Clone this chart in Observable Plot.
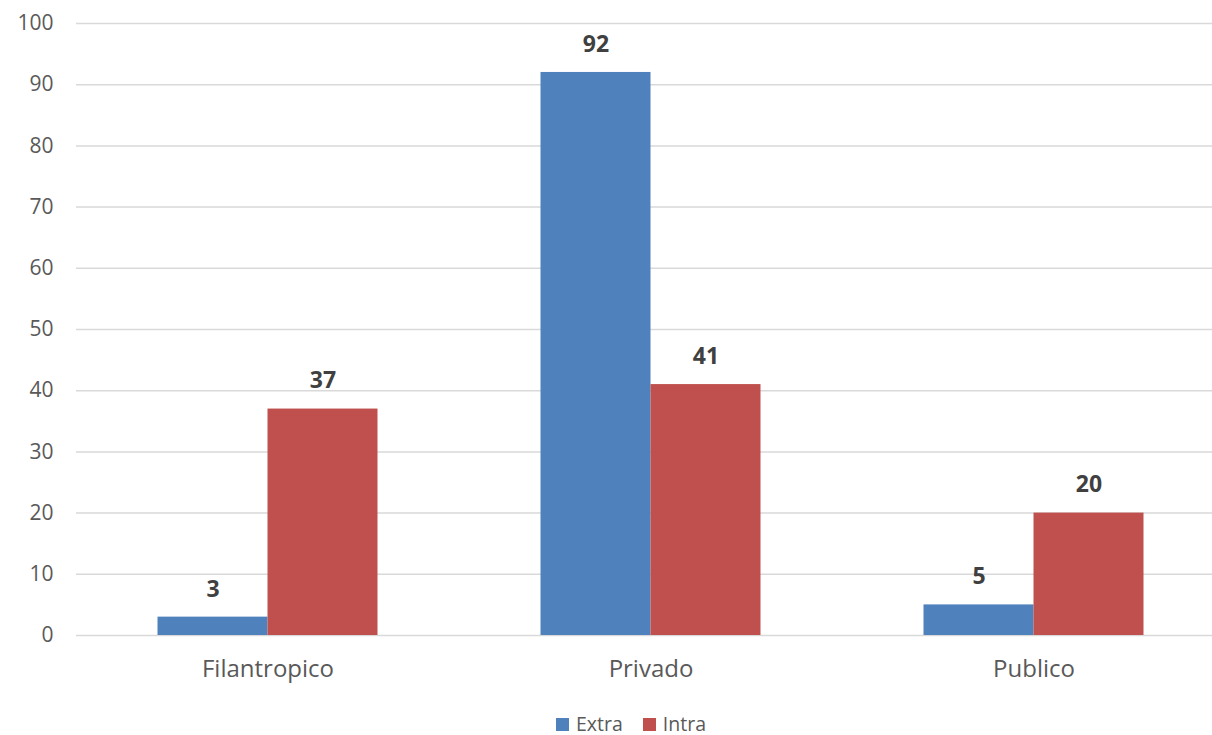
<!DOCTYPE html>
<html>
<head>
<meta charset="utf-8">
<script src="https://cdn.jsdelivr.net/npm/d3@7"></script>
<script src="https://cdn.jsdelivr.net/npm/@observablehq/plot@0.6"></script>
<style>
  body { margin: 0; background: #fff; font-family: "Open Sans", sans-serif; overflow: hidden; }
  #legend { display: flex; justify-content: center; align-items: center; height: 35px; padding-top: 13px; gap: 20px; font-size: 19.5px; line-height: 1; color: #595959; padding-left: 50px; box-sizing: border-box; }
  #legend .item { display: flex; align-items: center; gap: 7px; }
  #legend .sw { width: 13px; height: 13px; display: inline-block; }
</style>
</head>
<body>
<div id="chart"></div>
<div id="legend"></div>
<script>
const categories = ["Filantropico", "Privado", "Publico"];
const extraValues = [3, 92, 5];
const intraValues = [37, 41, 20];
const seriesNames = ["Extra", "Intra"];
const seriesColors = ["#4F81BD", "#C0504D"];
const yTicks = [0, 10, 20, 30, 40, 50, 60, 70, 80, 90, 100];

const extraData = categories.map((c, i) => ({category: c, series: "Extra", value: extraValues[i]}));
const intraData = categories.map((c, i) => ({category: c, series: "Intra", value: intraValues[i]}));

const chart = Plot.plot({
  width: 1212,
  height: 700,
  marginLeft: 76,
  marginRight: 0,
  marginTop: 23,
  marginBottom: 65,
  style: {fontFamily: "Open Sans, sans-serif", background: "#fff"},
  x: {domain: categories, range: [75.5, 1224.5], padding: 0, label: null},
  y: {domain: [0, 100], label: null},
  color: {domain: seriesNames, range: seriesColors},
  marks: [
    Plot.ruleY(yTicks, {stroke: "#d9d9d9", strokeWidth: 1.5}),
    Plot.barY(extraData, {x: "category", y: "value", fill: "series", insetLeft: 81.5, insetRight: 191.5}),
    Plot.barY(intraData, {x: "category", y: "value", fill: "series", insetLeft: 191.5, insetRight: 81.5}),
    Plot.text(extraData, {x: "category", y: "value", text: "value", dx: -55, dy: -28, fontWeight: "bold", fontSize: 23, fill: "#404040"}),
    Plot.text(intraData, {x: "category", y: "value", text: "value", dx: 55, dy: -28, fontWeight: "bold", fontSize: 23, fill: "#404040"}),
    Plot.axisY({ticks: yTicks, tickSize: 0, tickPadding: 23, fontSize: 21, color: "#595959", label: null}),
    Plot.axisX({tickSize: 0, tickPadding: 24, fontSize: 24, color: "#595959", label: null})
  ]
});
document.getElementById("chart").appendChild(chart);

const legend = document.getElementById("legend");
seriesNames.forEach((name, i) => {
  const item = document.createElement("span");
  item.className = "item";
  const sw = document.createElement("span");
  sw.className = "sw";
  sw.style.background = seriesColors[i];
  const label = document.createElement("span");
  label.textContent = name;
  item.appendChild(sw);
  item.appendChild(label);
  legend.appendChild(item);
});
</script>
</body>
</html>
